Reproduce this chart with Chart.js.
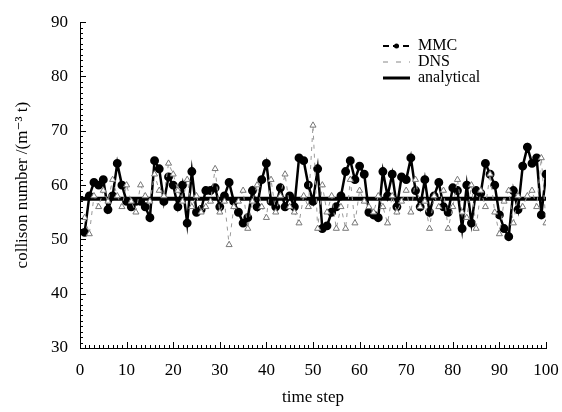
<!DOCTYPE html>
<html>
<head>
<meta charset="utf-8">
<script src="https://cdn.jsdelivr.net/npm/chart.js@4.4.0/dist/chart.umd.min.js"></script>
<style>
  html, body { margin: 0; padding: 0; background: #fff; }
  #wrap { width: 562px; height: 412px; }
</style>
</head>
<body>
<div id="wrap"><canvas id="collisionChart" width="562" height="412"></canvas></div>
<script>
// time steps 1..100
const steps = Array.from({ length: 100 }, (_, i) => i + 1);

// MMC collision numbers
const mmcValues = [
  51.3, 58, 60.5, 60, 61, 55.5, 58, 64, 60, 57,
  56, 57, 57, 56, 54, 64.5, 63, 57, 61.5, 60,
  56, 60, 53, 62.5, 55, 55.5, 59, 59, 59.5, 56,
  58, 60.5, 57, 55, 53, 54, 59, 56, 61, 64,
  57, 56, 59.5, 56, 58, 56, 65, 64.5, 60, 57,
  63, 52, 52.5, 55, 56, 58, 62.5, 64.5, 61, 63.5,
  62, 55, 54.5, 54, 62.5, 58, 62, 56, 61.5, 61,
  65, 59, 56, 61, 55, 58, 60.5, 56, 55, 59.5,
  59, 52, 60, 53, 59, 58.5, 64, 62, 60, 54.5,
  52, 50.5, 59, 55.5, 63.5, 67, 64, 65, 54.5, 62
];

// DNS collision numbers (faint dashed series)
const dnsValues = [
  54, 51, 58, 56, 59, 57, 61, 58, 56, 60,
  57, 55, 60, 58, 57, 62, 59, 58, 64, 62,
  59, 57, 61, 56, 58, 55, 56, 57, 63, 55,
  57, 49, 56, 57, 59, 52, 57, 60, 56, 54,
  61, 55, 58, 62, 56, 55, 53, 58, 56, 71,
  52, 60, 55, 58, 52, 56, 52, 61, 53, 59,
  57, 56, 55, 58, 56, 53, 58, 55, 57, 59,
  55, 61, 56, 57, 52, 58, 56, 59, 52, 56,
  61, 55, 54, 60, 52, 59, 56, 62, 55, 51,
  57, 59, 53, 58, 56, 58, 59, 56, 65, 53
];

// analytical value (constant)
const analyticalSteps = [0, 100];
const analyticalValues = [57.5, 57.5];

const xTicks = [0, 10, 20, 30, 40, 50, 60, 70, 80, 90, 100];
const yTicks = [30, 40, 50, 60, 70, 80, 90];

const legendLabels = ["MMC", "DNS", "analytical"];

const serif = '"Liberation Serif", "DejaVu Serif", serif';

// inward ticks, major every 10, minor every 1
const inwardTicks = {
  id: 'inwardTicks',
  afterDraw(chart) {
    const ctx = chart.ctx;
    const xs = chart.scales.x, ys = chart.scales.y;
    const area = chart.chartArea;
    ctx.save();
    ctx.strokeStyle = '#000';
    ctx.lineWidth = 1;
    ctx.beginPath();
    for (let v = 0; v <= 100; v++) {
      const px = Math.round(xs.getPixelForValue(v)) + 0.5;
      const len = v % 10 === 0 ? 6 : 3;
      ctx.moveTo(px, area.bottom);
      ctx.lineTo(px, area.bottom - len);
    }
    for (let v = 30; v <= 90; v++) {
      const py = Math.round(ys.getPixelForValue(v)) + 0.5;
      const len = v % 10 === 0 ? 6 : 3;
      ctx.moveTo(area.left, py);
      ctx.lineTo(area.left + len, py);
    }
    ctx.stroke();
    ctx.restore();
  }
};

// legend drawn without a box, top right
const sketchLegend = {
  id: 'sketchLegend',
  afterDraw(chart) {
    const ctx = chart.ctx;
    const x0 = 383, x1 = 410, tx = 418;
    const rows = [46, 62, 78];
    ctx.save();
    ctx.font = '16px ' + serif;
    ctx.fillStyle = '#000';
    ctx.textBaseline = 'middle';
    rows.forEach((y, i) => ctx.fillText(legendLabels[i], tx, y));

    // MMC: dash-dot with point
    ctx.strokeStyle = '#000';
    ctx.lineWidth = 2;
    ctx.setLineDash([6, 4]);
    ctx.beginPath();
    ctx.moveTo(x0, rows[0]); ctx.lineTo(x1, rows[0]);
    ctx.stroke();
    ctx.setLineDash([]);
    ctx.beginPath();
    ctx.arc((x0 + x1) / 2, rows[0], 2.5, 0, Math.PI * 2);
    ctx.fill();

    // DNS: light dashed
    ctx.strokeStyle = '#888';
    ctx.lineWidth = 1;
    ctx.setLineDash([5, 8]);
    ctx.beginPath();
    ctx.moveTo(x0, rows[1]); ctx.lineTo(x1, rows[1]);
    ctx.stroke();

    // analytical: thick solid
    ctx.setLineDash([]);
    ctx.strokeStyle = '#000';
    ctx.lineWidth = 3;
    ctx.beginPath();
    ctx.moveTo(x0, rows[2]); ctx.lineTo(x1, rows[2]);
    ctx.stroke();
    ctx.restore();
  }
};

const ctx = document.getElementById('collisionChart').getContext('2d');
new Chart(ctx, {
  type: 'line',
  data: {
    datasets: [
      {
        label: legendLabels[1],
        data: steps.map((s, i) => ({ x: s, y: dnsValues[i] })),
        borderColor: '#9a9a9a',
        borderWidth: 1,
        borderDash: [4, 5],
        pointStyle: 'triangle',
        pointRadius: 3.5,
        pointBackgroundColor: '#fff',
        pointBorderColor: '#777',
        pointBorderWidth: 1,
        tension: 0
      },
      {
        label: legendLabels[2],
        data: analyticalSteps.map((s, i) => ({ x: s, y: analyticalValues[i] })),
        borderColor: '#000',
        borderWidth: 4,
        pointRadius: 0,
        tension: 0
      },
      {
        label: legendLabels[0],
        data: steps.map((s, i) => ({ x: s, y: mmcValues[i] })),
        borderColor: '#000',
        borderWidth: 2.5,
        pointStyle: 'circle',
        pointRadius: 3.2,
        pointBackgroundColor: '#000',
        pointBorderColor: '#000',
        tension: 0
      }
    ]
  },
  options: {
    responsive: false,
    animation: false,
    devicePixelRatio: 1,
    layout: { padding: { top: 15, right: 2, left: 0, bottom: 4 } },
    plugins: {
      legend: { display: false },
      tooltip: { enabled: false }
    },
    scales: {
      x: {
        type: 'linear',
        min: 0,
        max: 100,
        afterBuildTicks: (scale) => { scale.ticks = xTicks.map(v => ({ value: v })); },
        afterFit: (scale) => {
          scale.height = 412 - 348 - 4;
          scale.paddingRight = 16;
        },
        grid: { display: false, drawTicks: false },
        border: { display: true, color: '#000', width: 1 },
        ticks: { color: '#000', padding: 12, font: { family: serif, size: 17 }, maxRotation: 0 },
        title: { display: true, text: 'time step', color: '#000', padding: { top: 4, bottom: 0 }, font: { family: serif, size: 17 } }
      },
      y: {
        type: 'linear',
        min: 30,
        max: 90,
        afterBuildTicks: (scale) => { scale.ticks = yTicks.map(v => ({ value: v })); },
        afterFit: (scale) => { scale.width = 80; },
        grid: { display: false, drawTicks: false },
        border: { display: true, color: '#000', width: 1 },
        ticks: { color: '#000', padding: 12, font: { family: serif, size: 17 } },
        title: { display: true, text: 'collison number /(m\u207B\u00B3 t)', color: '#000', padding: 12, font: { family: serif, size: 17 } }
      }
    }
  },
  plugins: [inwardTicks, sketchLegend]
});
</script>
</body>
</html>
